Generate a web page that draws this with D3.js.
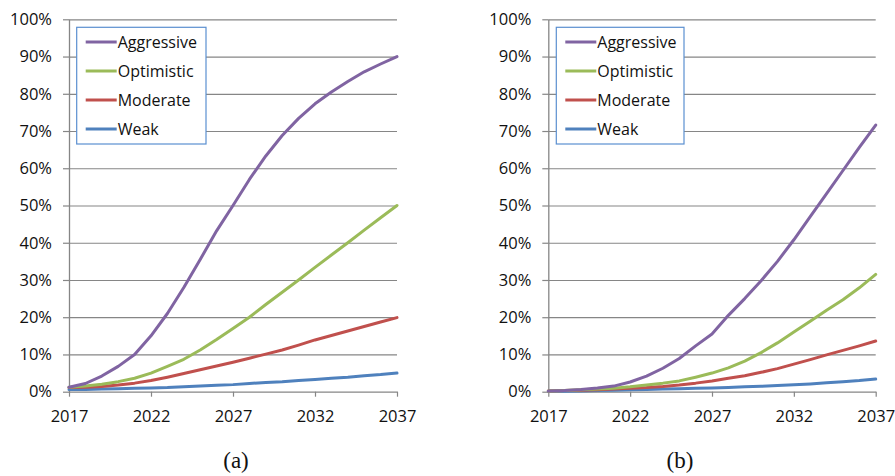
<!DOCTYPE html>
<html>
<head>
<meta charset="utf-8">
<script src="https://cdn.jsdelivr.net/npm/d3@7"></script>
<style>
  html, body { margin: 0; padding: 0; background: #ffffff; }
  svg { display: block; }
  text { font-family: "Open Sans", "Liberation Sans", sans-serif; fill: #111111; }
  .caption { font-family: "Liberation Serif", "Times New Roman", serif; }
</style>
</head>
<body>
<svg id="chart" width="895" height="476"></svg>
<script>
// ---------- data ----------
const years = [2017, 2018, 2019, 2020, 2021, 2022, 2023, 2024, 2025, 2026, 2027,
               2028, 2029, 2030, 2031, 2032, 2033, 2034, 2035, 2036, 2037];
const seriesNames = ["Aggressive", "Optimistic", "Moderate", "Weak"];
const xTickYears = [2017, 2022, 2027, 2032, 2037];
const yTicks = [0, 10, 20, 30, 40, 50, 60, 70, 80, 90, 100];
const panelLabels = ["(a)", "(b)"];

// panel (a) values, percent
const aggressiveA = [1.2, 2.2, 4.2, 6.8, 10.0, 15.0, 21.0, 28.0, 35.5, 43.2, 50.0,
                     57.0, 63.3, 68.8, 73.4, 77.3, 80.5, 83.3, 85.9, 88.0, 90.0];
const optimisticA = [1.2, 1.5, 2.0, 2.7, 3.6, 5.0, 6.8, 8.7, 11.2, 14.0, 17.0,
                     20.0, 23.4, 26.7, 30.0, 33.4, 36.7, 40.0, 43.4, 46.7, 50.0];
const moderateA   = [1.1, 1.2, 1.4, 1.8, 2.3, 3.0, 3.9, 4.9, 5.9, 6.9, 7.9,
                     9.0, 10.1, 11.2, 12.5, 13.9, 15.1, 16.3, 17.5, 18.7, 19.9];
const weakA       = [0.6, 0.6, 0.7, 0.8, 0.9, 1.0, 1.1, 1.3, 1.5, 1.7, 1.9,
                     2.2, 2.5, 2.7, 3.0, 3.3, 3.6, 3.9, 4.3, 4.6, 5.0];

// panel (b) values, percent
const aggressiveB = [0.2, 0.3, 0.6, 1.0, 1.5, 2.6, 4.2, 6.3, 8.9, 12.3, 15.5,
                     20.5, 25.0, 29.8, 35.0, 40.8, 47.0, 53.2, 59.4, 65.6, 71.6];
const optimisticB = [0.2, 0.3, 0.5, 0.7, 0.9, 1.3, 1.8, 2.3, 2.9, 3.9, 5.0,
                     6.4, 8.2, 10.5, 13.1, 16.0, 18.9, 21.9, 24.7, 27.9, 31.5];
const moderateB   = [0.2, 0.3, 0.4, 0.5, 0.7, 0.9, 1.1, 1.4, 1.8, 2.3, 2.9,
                     3.6, 4.3, 5.2, 6.2, 7.4, 8.6, 9.9, 11.1, 12.3, 13.6];
const weakB       = [0.1, 0.15, 0.2, 0.3, 0.4, 0.5, 0.6, 0.7, 0.8, 0.9, 1.0,
                     1.15, 1.3, 1.45, 1.65, 1.85, 2.1, 2.4, 2.7, 3.0, 3.4];

const colors = ["#8064A2", "#9BBB59", "#C0504D", "#4F81BD"];

// ---------- layout ----------
const panels = [
  { label: panelLabels[0], series: [aggressiveA, optimisticA, moderateA, weakA],
    x0: 69, x1: 397, legendX: 76.7, legendW: 129.3, captionX: 236 },
  { label: panelLabels[1], series: [aggressiveB, optimisticB, moderateB, weakB],
    x0: 548.3, x1: 875.7, legendX: 556.3, legendW: 127.7, captionX: 680 }
];
const yBottom = 391.7, yTop = 19.3;
const gridColor = "#868686";

const svg = d3.select("#chart");

panels.forEach(p => {
  const x = d3.scaleLinear().domain([years[0], years[years.length - 1]]).range([p.x0, p.x1]);
  const y = d3.scaleLinear().domain([0, 100]).range([yBottom, yTop]);
  const g = svg.append("g");

  // gridlines
  g.append("g")
    .attr("transform", `translate(${p.x0},0)`)
    .call(d3.axisLeft(y).tickValues(yTicks.filter(v => v > 0)).tickSize(-(p.x1 - p.x0)).tickFormat(""))
    .call(s => s.select(".domain").remove())
    .call(s => s.selectAll("line").attr("stroke", gridColor).attr("stroke-width", 1.2));

  // y axis
  g.append("g")
    .attr("transform", `translate(${p.x0},0)`)
    .call(d3.axisLeft(y).tickValues(yTicks).tickSize(6).tickSizeOuter(0).tickPadding(11)
            .tickFormat(d => d + "%"))
    .call(s => s.select(".domain").attr("stroke", gridColor).attr("stroke-width", 1.3))
    .call(s => s.selectAll("line").attr("stroke", gridColor).attr("stroke-width", 1.2))
    .call(s => s.selectAll("text").attr("font-size", 16.5).attr("font-family", null).attr("fill", "#111111"));

  // x axis
  g.append("g")
    .attr("transform", `translate(0,${yBottom})`)
    .call(d3.axisBottom(x).tickValues(xTickYears).tickSize(5).tickSizeOuter(0).tickFormat(d3.format("d")))
    .call(s => s.select(".domain").attr("stroke", gridColor).attr("stroke-width", 1.3))
    .call(s => s.selectAll("line").attr("stroke", gridColor).attr("stroke-width", 1.2))
    .call(s => s.selectAll("text").attr("font-size", 16.5).attr("font-family", null)
               .attr("fill", "#111111").attr("dy", null).attr("y", 30));

  // lines (weak first so aggressive on top)
  const line = d3.line().x((d, i) => x(years[i])).y(d => y(d));
  const order = [3, 2, 1, 0];
  order.forEach(k => {
    g.append("path")
      .datum(p.series[k])
      .attr("fill", "none")
      .attr("stroke", colors[k])
      .attr("stroke-width", 3)
      .attr("stroke-linejoin", "round")
      .attr("stroke-linecap", "round")
      .attr("d", line);
  });

  // legend
  const lg = g.append("g");
  lg.append("rect")
    .attr("x", p.legendX).attr("y", 27.3)
    .attr("width", p.legendW).attr("height", 116.7)
    .attr("fill", "#ffffff").attr("stroke", "#5B8FD0").attr("stroke-width", 1.2);
  seriesNames.forEach((name, k) => {
    const cy = 42 + k * 29;
    lg.append("line")
      .attr("x1", p.legendX + 9).attr("x2", p.legendX + 40)
      .attr("y1", cy).attr("y2", cy)
      .attr("stroke", colors[k]).attr("stroke-width", 3);
    lg.append("text")
      .attr("x", p.legendX + 41).attr("y", cy)
      .attr("dy", "0.36em")
      .attr("font-size", 16)
      .text(name);
  });

  // caption
  g.append("text")
    .attr("class", "caption")
    .attr("x", p.captionX).attr("y", 468)
    .attr("text-anchor", "middle")
    .attr("font-size", 23)
    .text(p.label);
});
</script>
</body>
</html>
